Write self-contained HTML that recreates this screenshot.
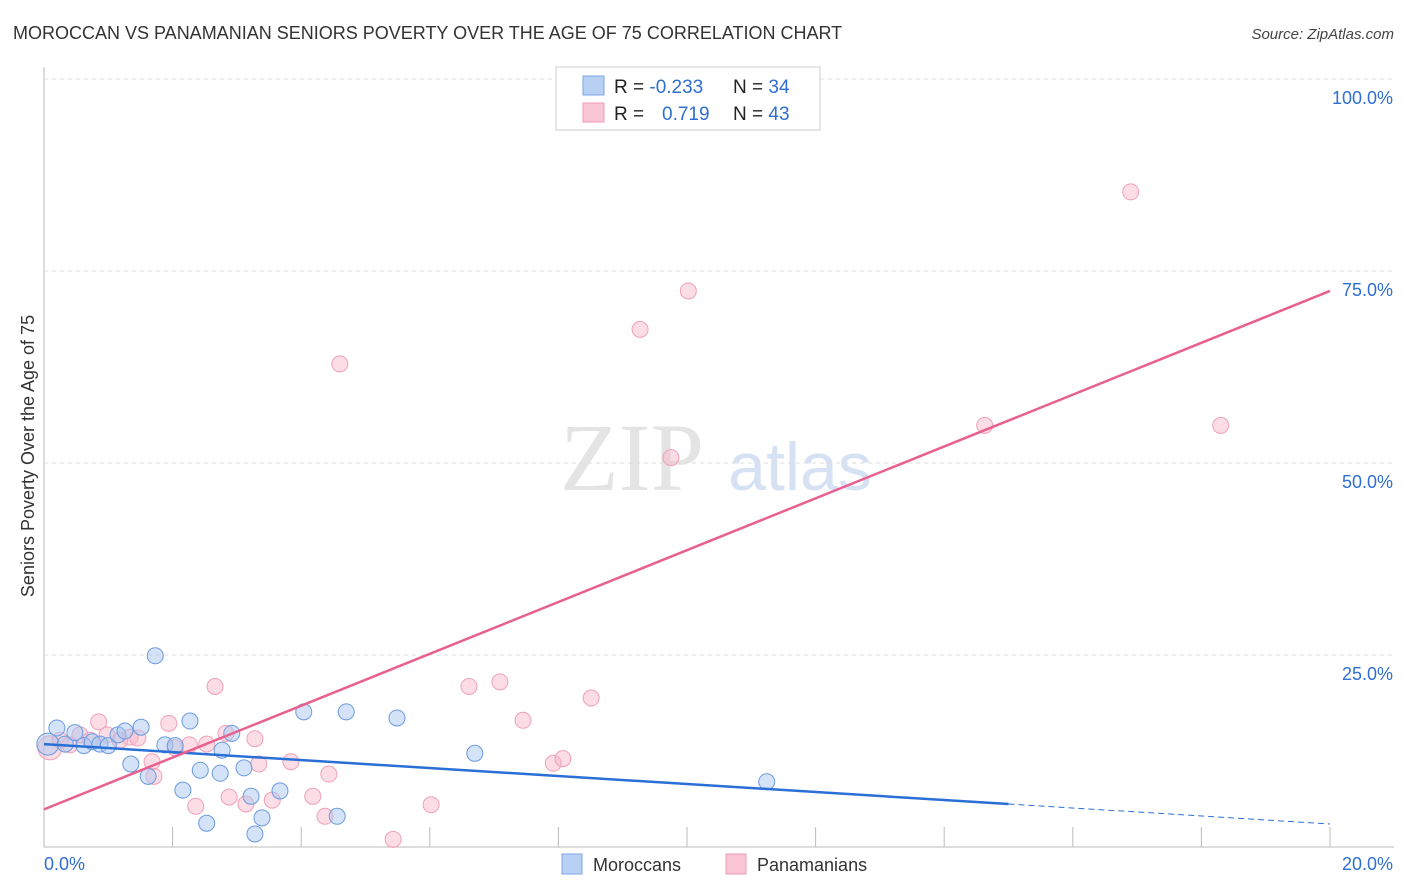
<!DOCTYPE html>
<html><head><meta charset="utf-8"><style>
body{margin:0;background:#fff;width:1406px;height:892px;overflow:hidden;font-family:"Liberation Sans",sans-serif}
svg{display:block}
</style></head><body>
<svg id="c" width="1406" height="892" xmlns="http://www.w3.org/2000/svg">
<text x="13" y="39" font-size="18" fill="#333">MOROCCAN VS PANAMANIAN SENIORS POVERTY OVER THE AGE OF 75 CORRELATION CHART</text>
<text x="1394" y="39" font-size="15" fill="#444" text-anchor="end" font-style="italic">Source: ZipAtlas.com</text>
<text x="632" y="490" font-size="96" fill="#e4e4e4" text-anchor="middle" font-family="Liberation Serif,serif">ZIP</text>
<text x="800" y="490" font-size="68" fill="#d6e2f4" text-anchor="middle">atlas</text>
<text transform="translate(34,456) rotate(-90)" font-size="18" fill="#333" text-anchor="middle">Seniors Poverty Over the Age of 75</text>
<g id="grid"></g><g id="pts"></g><g id="lines"></g>
<g>
<rect x="556" y="67" width="264" height="63" fill="#fff" stroke="#ccc"/>
<rect x="583" y="76" width="21" height="19" fill="#b8d0f4" stroke="#7aa6e6"/>
<rect x="583" y="103" width="21" height="19" fill="#fac6d6" stroke="#f09ab4"/>
<text x="614" y="93" font-size="19" fill="#222">R = <tspan fill="#2f6fd1">-0.233</tspan><tspan x="733">N = </tspan><tspan fill="#2f6fd1">34</tspan></text>
<text x="614" y="120" font-size="19" fill="#222">R = <tspan x="662" fill="#2f6fd1">0.719</tspan><tspan x="733">N = </tspan><tspan fill="#2f6fd1">43</tspan></text>
</g>
<g>
<rect x="562" y="854" width="20" height="20" fill="#b8d0f4" stroke="#7aa6e6"/>
<text x="593" y="871" font-size="18" fill="#333">Moroccans</text>
<rect x="726" y="854" width="20" height="20" fill="#fac6d6" stroke="#f09ab4"/>
<text x="757" y="871" font-size="18" fill="#333">Panamanians</text>
</g>
</svg>
<script>
const yTicks=[25,50,75,100];
const yTickLabels=["25.0%","50.0%","75.0%","100.0%"];
const xTickLabels=["0.0%","20.0%"];
const moroccanX=[0.06,0.2,0.33,0.48,0.62,0.75,0.87,1.0,1.15,1.26,1.51,1.73,1.88,2.04,2.27,2.43,2.53,2.74,2.77,2.92,3.11,3.22,3.28,3.39,3.67,4.04,4.56,4.7,5.49,6.7,11.24,1.35,1.62,2.16];
const moroccanY=[13.4,15.5,13.4,14.9,13.2,13.7,13.4,13.2,14.6,15.1,15.6,24.9,13.3,13.2,16.4,10.0,3.1,9.6,12.6,14.8,10.3,6.6,1.7,3.8,7.3,17.6,4.0,17.6,16.8,12.2,8.5,10.8,9.2,7.4];
const panamanianX=[0.09,0.25,0.56,0.85,0.98,1.18,1.34,1.46,1.68,1.71,1.94,2.04,2.26,2.36,2.53,2.66,2.83,2.88,3.14,3.28,3.34,3.55,3.84,4.18,4.37,4.43,4.6,5.43,6.02,6.61,7.09,7.45,7.92,8.07,8.51,9.27,9.75,10.02,14.63,16.9,18.3,0.72,0.4];
const panamanianY=[12.9,13.9,14.6,16.3,14.6,13.9,14.3,14.2,11.1,9.2,16.1,12.9,13.3,5.3,13.4,20.9,14.8,6.5,5.6,14.1,10.8,6.1,11.1,6.6,4.0,9.5,62.9,1.0,5.5,20.9,21.5,16.5,10.9,11.5,19.4,67.4,50.7,72.4,54.9,85.3,54.9,13.9,13.3];
const blueTrend=[13.4,3.0], blueSolidEnd=15.0;
const pinkTrend=[4.9,72.4];
const X=v=>44+v*64.3, Y=v=>847-v*7.68;
const NS="http://www.w3.org/2000/svg";
function mk(p,t,a){const e=document.createElementNS(NS,t);for(const k in a)e.setAttribute(k,a[k]);p.appendChild(e);return e;}
const grid=document.getElementById('grid');
const axis=mk(grid,'line',{x1:44,y1:67,x2:44,y2:847,stroke:'#bbb'});


const xl=mk(grid,'line',{x1:44,y1:847,x2:1394,y2:847,stroke:'#bbb'});


mk(grid,'line',{x1:44,y1:Y(100),x2:1394,y2:Y(100),stroke:'#ddd','stroke-dasharray':'4,4'});
yTicks.forEach((t,i)=>{
 const g=mk(grid,'line',{x1:44,y1:Y(t),x2:1394,y2:Y(t),stroke:'#ddd','stroke-dasharray':'4,4'});
 
 
 const tx=mk(grid,'text',{x:1393,y:Y(t)+25,'font-size':18,fill:'#2f6fd1','text-anchor':'end'});
 tx.textContent=yTickLabels[i];
 
 
});
for(let i=1;i<=10;i++){const tk=mk(grid,'line',{x1:X(i*2),y1:827,x2:X(i*2),y2:847,stroke:'#bbb'});
 
 }
xTickLabels.forEach((l,i)=>{const tx=mk(grid,'text',{x:i?1393:44,y:870,'font-size':18,fill:'#2f6fd1','text-anchor':i?'end':'start'});
 tx.textContent=l;
 
 });
const pts=document.getElementById('pts');
panamanianX.forEach((x,i)=>{const r=i===0?12:8;const c=mk(pts,'circle',{cx:X(x),cy:Y(panamanianY[i]),r:r,fill:'rgba(248,180,200,0.45)',stroke:'#f0a0b8','stroke-width':1});
 
 });
moroccanX.forEach((x,i)=>{const r=i===0?11:8;const c=mk(pts,'circle',{cx:X(x),cy:Y(moroccanY[i]),r:r,fill:'rgba(170,200,240,0.5)',stroke:'#6b9be0','stroke-width':1});
 
 });
const ln=document.getElementById('lines');
const bAt=x=>blueTrend[0]+(blueTrend[1]-blueTrend[0])*x/20;
const b1=mk(ln,'line',{x1:X(0),y1:Y(bAt(0)),x2:X(blueSolidEnd),y2:Y(bAt(blueSolidEnd)),stroke:'#2a6fd6','stroke-width':2.5});


const b2=mk(ln,'line',{x1:X(blueSolidEnd),y1:Y(bAt(blueSolidEnd)),x2:X(20),y2:Y(bAt(20)),stroke:'#2a6fd6','stroke-width':1,'stroke-dasharray':'6,4'});


const p1=mk(ln,'line',{x1:X(0),y1:Y(pinkTrend[0]),x2:X(20),y2:Y(pinkTrend[1]),stroke:'#e8608f','stroke-width':2.5});


</script>
</body></html>
